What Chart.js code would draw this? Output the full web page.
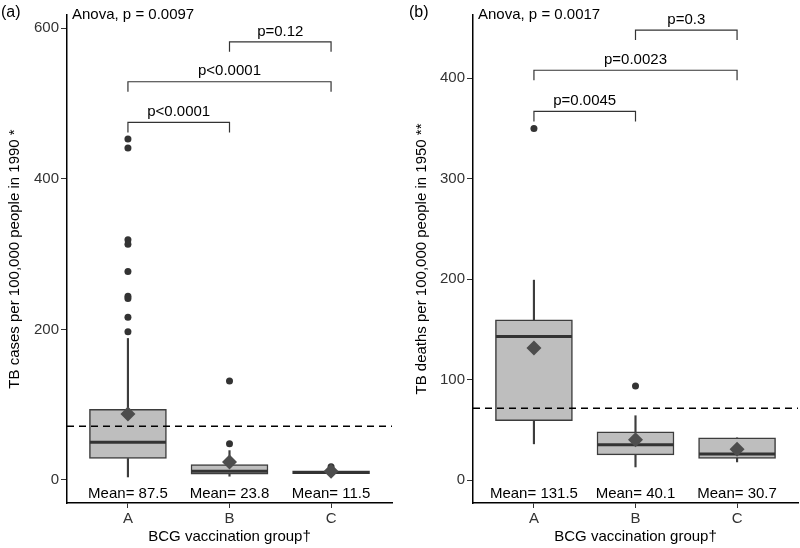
<!DOCTYPE html>
<html>
<head>
<meta charset="utf-8">
<script src="https://cdn.jsdelivr.net/npm/chart.js@4.4.1/dist/chart.umd.min.js"></script>
<style>
  html, body { margin: 0; padding: 0; background: #fff; }
  .panel { position: absolute; top: 0; width: 400px; height: 548px; }
  #panel-a { left: 0; }
  #panel-b { left: 400px; }
</style>
</head>
<body>
<div class="panel" id="panel-a"><canvas></canvas></div>
<div class="panel" id="panel-b"><canvas></canvas></div>
<script>
const groups = ["A", "B", "C"];
const refLine = 71.5;

// (a) TB cases per 100,000 in 1990
const casesQ1 = [28.5, 7.6, 8.5];
const casesMedian = [50, 11.5, 10];
const casesQ3 = [94, 20.5, 12];
const casesLow = [4, 5, 7.5];
const casesHigh = [188, 39, 13];
const casesMean = [87.5, 23.8, 11.5];
const casesOutliers = [[453, 441, 319, 313, 277, 244, 241, 216, 197], [131.5, 48], [17.5]];
const casesPairs = [[0, 1], [0, 2], [1, 2]];
const casesPairY = [475, 529, 582];
const casesPairLabels = ["p<0.0001", "p<0.0001", "p=0.12"];
const casesTicks = [0, 200, 400, 600];

// (b) TB deaths per 100,000 in 1950
const deathsQ1 = [59, 25, 21.6];
const deathsMedian = [143, 35, 26];
const deathsQ3 = [159.5, 48, 42];
const deathsLow = [36, 13, 18];
const deathsHigh = [199, 64, 42];
const deathsMean = [131.5, 40.1, 30.7];
const deathsOutliers = [[350], [93.7], []];
const deathsPairs = [[0, 1], [0, 2], [1, 2]];
const deathsPairY = [367, 408, 448];
const deathsPairLabels = ["p=0.0045", "p=0.0023", "p=0.3"];
const deathsTicks = [0, 100, 200, 300, 400];

const FONT = '"Liberation Sans", Arial, sans-serif';

const annotate = {
  id: "annotate",
  afterDatasetsDraw(chart, args, opts) {
    const {ctx, chartArea} = chart;
    const x = chart.scales.x, y = chart.scales.y;
    ctx.save();
    ctx.fillStyle = "#000";
    ctx.font = "16px " + FONT;
    ctx.textBaseline = "middle";
    ctx.textAlign = "left";
    ctx.fillText(opts.tag, opts.tagX, 13);
    ctx.font = "15px " + FONT;
    ctx.fillText(opts.anova, chartArea.left + 5, 15);

    // comparison brackets
    ctx.strokeStyle = "#333";
    ctx.lineWidth = 1.2;
    ctx.textAlign = "center";
    ctx.textBaseline = "bottom";
    opts.pairs.forEach((p, i) => {
      const x1 = x.getPixelForValue(p[0]);
      const x2 = x.getPixelForValue(p[1]);
      const py = y.getPixelForValue(opts.pairY[i]);
      ctx.beginPath();
      ctx.moveTo(x1, py + 10);
      ctx.lineTo(x1, py);
      ctx.lineTo(x2, py);
      ctx.lineTo(x2, py + 10);
      ctx.stroke();
      ctx.fillText(opts.pairLabels[i], (x1 + x2) / 2, py - 3);
    });

    // mean labels
    ctx.textBaseline = "middle";
    opts.means.forEach((m, i) => {
      ctx.fillText("Mean= " + m.toFixed(1), x.getPixelForValue(i), chartArea.bottom - 9);
    });
    ctx.restore();
  }
};

function panelDatasets(q1, med, q3, lo, hi, mean, outliers) {
  const whiskers = [];
  q1.forEach((v, i) => {
    whiskers.push({x: i, y: [q3[i], hi[i]]});
    whiskers.push({x: i, y: [lo[i], v]});
  });
  return [
    {
      type: "scatter", order: 0,
      data: mean.map((v, i) => ({x: i, y: v})),
      pointStyle: "rectRot", pointRadius: 7.5,
      backgroundColor: "#4d4d4d", borderColor: "#4d4d4d", borderWidth: 0
    },
    {
      type: "scatter", order: 1,
      data: outliers.flatMap((vals, i) => vals.map(v => ({x: i, y: v}))),
      pointRadius: 3.5, backgroundColor: "#333", borderWidth: 0
    },
    {
      type: "scatter", order: 2,
      data: med.map((v, i) => ({x: i, y: v})),
      pointStyle: "line", pointRadius: 38, borderWidth: 3, borderColor: "#333"
    },
    {
      type: "line", order: 3,
      data: [{x: -0.6, y: refLine}, {x: 2.6, y: refLine}],
      borderColor: "#000", borderWidth: 1.5, borderDash: [7, 5], pointRadius: 0
    },
    {
      type: "bar", order: 4,
      data: q1.map((v, i) => ({x: i, y: [v, q3[i]]})),
      backgroundColor: "#bebebe", borderColor: "#3d3d3d", borderWidth: 1.5, borderSkipped: false,
      grouped: false, barPercentage: 1, categoryPercentage: 1, maxBarThickness: 77
    },
    {
      type: "bar", order: 5,
      data: whiskers,
      backgroundColor: "#3d3d3d", borderWidth: 0,
      grouped: false, barPercentage: 1, categoryPercentage: 1, maxBarThickness: 1.5
    }
  ];
}

function makePanel(sel, cfg) {
  return new Chart(document.querySelector(sel + " > canvas"), {
    type: "bar",
    data: {datasets: cfg.datasets},
    options: {
      responsive: true,
      maintainAspectRatio: false,
      animation: false,
      layout: {autoPadding: false, padding: {top: 15, right: cfg.padRight, left: 0, bottom: 0}},
      plugins: {
        legend: {display: false},
        tooltip: {enabled: false},
        annotate: cfg.annotate
      },
      scales: {
        x: {
          type: "linear", min: -0.6, max: 2.6, offset: false,
          afterFit: s => { s.height = 45; },
          afterBuildTicks: s => { s.ticks = groups.map((g, i) => ({value: i})); },
          grid: {drawOnChartArea: false, drawTicks: true, tickLength: 5, color: "#333", offset: false},
          border: {display: true, color: "#000", width: 1.5},
          ticks: {
            padding: 2, color: "#333", font: {family: FONT, size: 15},
            callback: v => groups[v]
          },
          title: {
            display: true, text: "BCG vaccination group\u2020", color: "#000",
            font: {family: FONT, size: 15}, padding: {top: 2, bottom: 2}
          }
        },
        y: {
          min: cfg.yMin, max: cfg.yMax,
          afterFit: s => { s.width = cfg.yWidth; },
          afterBuildTicks: s => { s.ticks = cfg.ticks.map(v => ({value: v})); },
          grid: {drawOnChartArea: false, drawTicks: true, tickLength: 6, color: "#333"},
          border: {display: true, color: "#000", width: 1.5},
          ticks: {padding: 2, color: "#333", font: {family: FONT, size: 15}},
          title: {
            display: true, text: cfg.yTitle, color: "#000",
            font: {family: FONT, size: 15}, padding: {top: cfg.titlePad, bottom: 0}
          }
        }
      }
    },
    plugins: [annotate]
  });
}

const chartA = makePanel("#panel-a", {
  datasets: panelDatasets(casesQ1, casesMedian, casesQ3, casesLow, casesHigh, casesMean, casesOutliers),
  padRight: 8, yWidth: 67, yMin: -30.6, yMax: 617.7, ticks: casesTicks, titlePad: 6,
  yTitle: "TB cases per 100,000 people in 1990 *",
  annotate: {
    tag: "(a)", tagX: 1, anova: "Anova, p = 0.0097",
    pairs: casesPairs, pairY: casesPairY, pairLabels: casesPairLabels, means: casesMean
  }
});

const chartB = makePanel("#panel-b", {
  datasets: panelDatasets(deathsQ1, deathsMedian, deathsQ3, deathsLow, deathsHigh, deathsMean, deathsOutliers),
  padRight: 2, yWidth: 73, yMin: -22.9, yMax: 463, ticks: deathsTicks, titlePad: 13,
  yTitle: "TB deaths per 100,000 people in 1950 **",
  annotate: {
    tag: "(b)", tagX: 9, anova: "Anova, p = 0.0017",
    pairs: deathsPairs, pairY: deathsPairY, pairLabels: deathsPairLabels, means: deathsMean
  }
});
</script>
</body>
</html>
